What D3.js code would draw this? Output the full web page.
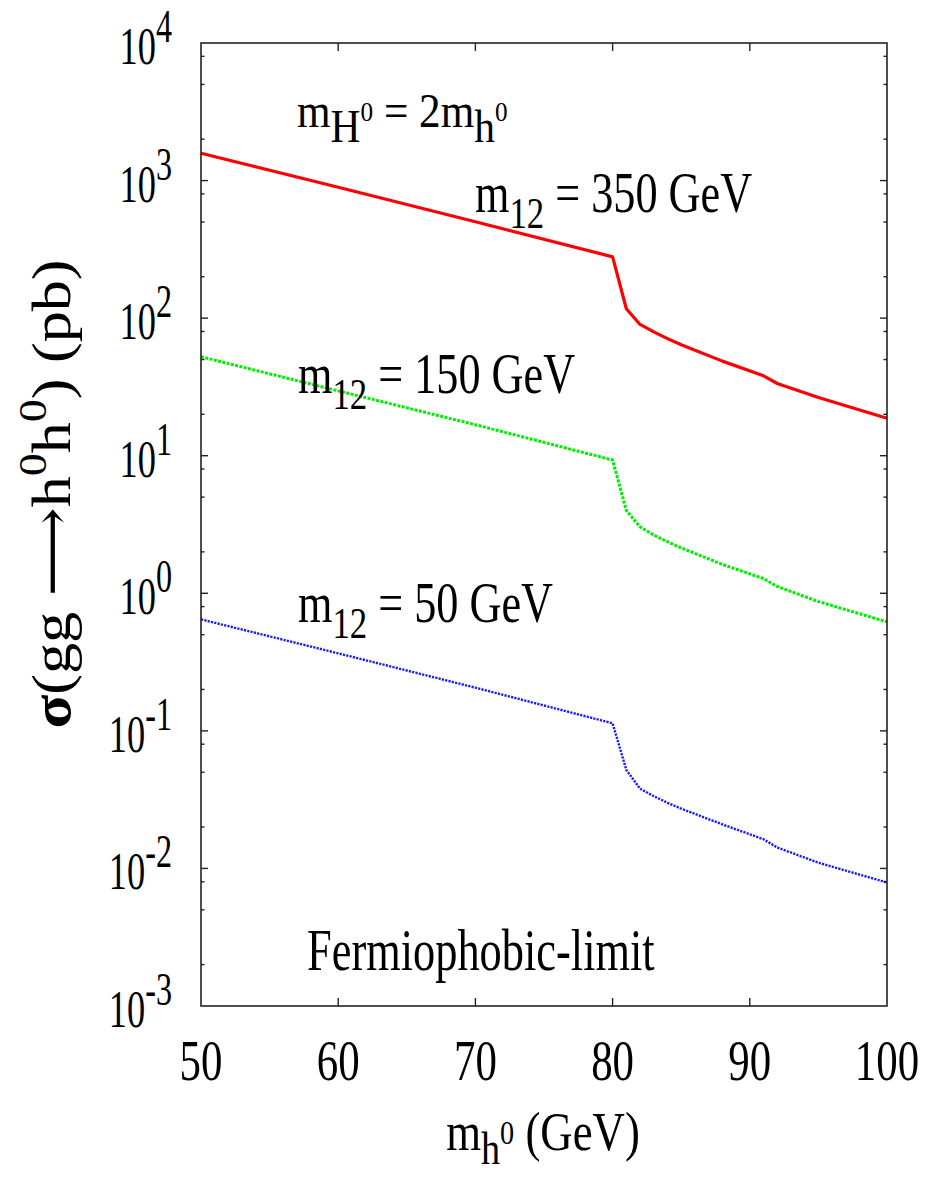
<!DOCTYPE html>
<html>
<head>
<meta charset="utf-8">
<script src="https://cdn.jsdelivr.net/npm/d3@7"></script>
<style>
  html, body { margin: 0; padding: 0; background: #fff; }
  text { font-family: 'Liberation Serif', 'Times New Roman', 'DejaVu Serif', serif; }
</style>
</head>
<body>
<div id="chart"></div>
<script>
// values (sigma in pb)
const massGeV = [50, 60, 70, 80, 81, 82, 83, 84, 85, 88, 91, 92, 95, 100]
const sigma350 = [1580, 895, 502, 279, 117, 90, 79.5, 71, 64, 48.7, 38.1, 33.5, 26.5, 18.7]
const sigma150 = [52.4, 29.6, 16.8, 9.3, 4.0, 3.04, 2.65, 2.37, 2.14, 1.62, 1.28, 1.12, 0.87, 0.62]
const sigma50 = [0.646, 0.366, 0.206, 0.1135, 0.052, 0.038, 0.0335, 0.030, 0.0272, 0.0209, 0.0163, 0.0142, 0.011, 0.0079]

const xTicks = [50, 60, 70, 80, 90, 100]
const yExponents = [-3, -2, -1, 0, 1, 2, 3, 4]
const minorMultipliers = [2, 5, 8]

const width = 942
const height = 1178
const margin = { top: 43, right: 55, bottom: 172, left: 201 }

const svg = d3.select('#chart')
  .append('svg')
  .attr('width', width)
  .attr('height', height)

const x = d3.scaleLinear()
  .domain([50, 100])
  .range([margin.left, width - margin.right])

const y = d3.scaleLog()
  .domain([1e-3, 1e4])
  .range([height - margin.bottom, margin.top])

// text with sub/superscripts; the original is stretched, so scale along the text
function richText(px, py, parts, opts = {}) {
  const size = opts.size || 54
  const g = svg.append('g')
    .attr('transform', `translate(${px},${py}) ${opts.rotate ? 'rotate(-90)' : ''} scale(${opts.sx || 0.7},1)`)
  const t = g.append('text')
    .attr('font-size', size)
    .attr('text-anchor', opts.anchor || 'start')
    .attr('fill', '#000')
  let cur = 0
  parts.forEach(p => {
    const off = p.shift || 0
    const span = t.append('tspan')
      .attr('dy', off - cur)
      .attr('font-size', p.size || size)
      .text(p.t)
    if (p.bold) span.attr('font-weight', 'bold')
    cur = off
  })
  return t
}

// curves
const line = d3.line()
  .x(d => x(d[0]))
  .y(d => y(d[1]))

const series = [
  { values: sigma350, color: '#ff0000', width: 3.2, dash: null },
  { values: sigma150, color: '#00ee00', width: 3, dash: '3,1.4' },
  { values: sigma50, color: '#1a1aff', width: 2.4, dash: '2.2,1.2' }
]

series.forEach(s => {
  svg.append('path')
    .datum(massGeV.map((m, i) => [m, s.values[i]]))
    .attr('fill', 'none')
    .attr('stroke', s.color)
    .attr('stroke-width', s.width)
    .attr('stroke-dasharray', s.dash)
    .attr('stroke-linejoin', 'round')
    .attr('d', line)
})

// frame
const x0 = x.range()[0], x1 = x.range()[1]
const y0 = y.range()[0], y1 = y.range()[1]
svg.append('rect')
  .attr('x', x0).attr('y', y1)
  .attr('width', x1 - x0).attr('height', y0 - y1)
  .attr('fill', 'none')
  .attr('stroke', '#222')
  .attr('stroke-width', 1.6)

// ticks (inside, mirrored)
const tickG = svg.append('g').attr('stroke', '#222').attr('stroke-width', 1.4)
xTicks.slice(1, -1).forEach(v => {
  tickG.append('line').attr('x1', x(v)).attr('x2', x(v)).attr('y1', y0).attr('y2', y0 - 8)
  tickG.append('line').attr('x1', x(v)).attr('x2', x(v)).attr('y1', y1).attr('y2', y1 + 8)
})
yExponents.forEach(e => {
  const v = Math.pow(10, e)
  if (e > -3 && e < 4) {
    tickG.append('line').attr('x1', x0).attr('x2', x0 + 7).attr('y1', y(v)).attr('y2', y(v))
    tickG.append('line').attr('x1', x1).attr('x2', x1 - 7).attr('y1', y(v)).attr('y2', y(v))
  }
  if (e < 4) {
    minorMultipliers.forEach(m => {
      const mv = m * v
      tickG.append('line').attr('x1', x0).attr('x2', x0 + 3.5).attr('y1', y(mv)).attr('y2', y(mv))
      tickG.append('line').attr('x1', x1).attr('x2', x1 - 3.5).attr('y1', y(mv)).attr('y2', y(mv))
    })
  }
})

// x tick labels
xTicks.forEach(v => {
  richText(x(v), 1080, [{ t: String(v) }], { size: 58, anchor: 'middle', sx: 0.74 })
})

// y tick labels: 10^e, right aligned
yExponents.forEach(e => {
  richText(172, y(Math.pow(10, e)) + 21, [
    { t: '10' },
    { t: String(e), size: 46, shift: -22 }
  ], { size: 52, anchor: 'end', sx: 0.7 })
})

// axis titles
richText(543, 1150, [
  { t: 'm' },
  { t: 'h', size: 46, shift: 14 },
  { t: '0', size: 34, shift: -6 },
  { t: ' (GeV)', shift: 0 }
], { size: 54, anchor: 'middle', sx: 0.83 })

richText(70, 494, [
  { t: 'σ', bold: true },
  { t: '(gg ⟶h' },
  { t: '0', size: 40, shift: -24 },
  { t: 'h', shift: 0 },
  { t: '0', size: 40, shift: -24 },
  { t: ')  (pb)', shift: 0 }
], { size: 54, anchor: 'middle', rotate: true, sx: 1.15 })

// annotations
richText(297, 127, [
  { t: 'm' },
  { t: 'H', size: 46, shift: 15 },
  { t: '0', size: 28, shift: -6 },
  { t: ' = 2m', shift: 0 },
  { t: 'h', size: 46, shift: 15 },
  { t: '0', size: 28, shift: -6 }
], { size: 48, sx: 0.9 })

const m12Labels = [
  { text: ' = 350 GeV', px: 475, py: 212 },
  { text: ' = 150 GeV', px: 298, py: 393 },
  { text: ' = 50 GeV', px: 298, py: 622 }
]
m12Labels.forEach(l => {
  richText(l.px, l.py, [
    { t: 'm' },
    { t: '12', size: 44, shift: 16 },
    { t: l.text, shift: 0 }
  ], { size: 56, sx: 0.79 })
})

richText(307, 970, [{ t: 'Fermiophobic-limit' }], { size: 60, sx: 0.74 })
</script>
</body>
</html>
